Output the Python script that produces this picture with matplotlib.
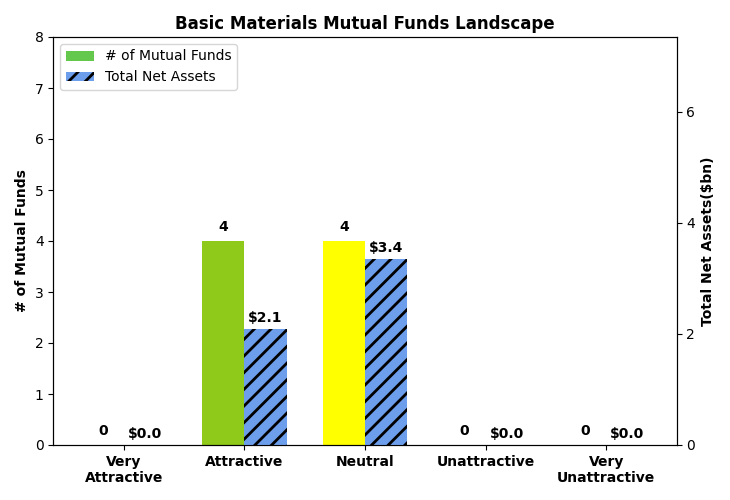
import numpy as np
import matplotlib
matplotlib.use('Agg')
import matplotlib.pyplot as plt

categories = ['Very\nAttractive', 'Attractive', 'Neutral', 'Unattractive', 'Very\nUnattractive']
num_funds = [0, 4, 4, 0, 0]
net_assets = [0.0, 2.09, 3.35, 0.0, 0.0]
fund_colors = ['#64c84c', '#8fc919', '#ffff00', '#ffa500', '#ff0000']

plt.rcParams['hatch.linewidth'] = 2.0

fig, ax = plt.subplots(figsize=(7.3, 5), dpi=100)
ax2 = ax.twinx()

x = np.arange(len(categories))
w = 0.35

bars1 = ax.bar(x - w / 2, num_funds, w, color=fund_colors, label='# of Mutual Funds')
bars2 = ax2.bar(x + w / 2, net_assets, w, color='#6d9eeb', edgecolor='black', linewidth=0,
                hatch='//', label='Total Net Assets')

for b, v in zip(bars1, num_funds):
    ax.annotate('%d' % v, (b.get_x() + b.get_width() / 2, v), xytext=(0, 5),
                textcoords='offset points', ha='center', va='bottom', fontweight='bold')
for b, v in zip(bars2, net_assets):
    ax2.annotate('$%.1f' % v, (b.get_x() + b.get_width() / 2, v), xytext=(0, 3),
                 textcoords='offset points', ha='center', va='bottom', fontweight='bold')

ax.set_ylim(0, 8)
ax2.set_ylim(0, 7.35)
ax2.set_yticks([0, 2, 4, 6])
ax.set_xticks(x)
ax.set_xticklabels(categories, fontweight='bold')
ax.set_ylabel('# of Mutual Funds', fontweight='bold')
ax2.set_ylabel('Total Net Assets($bn)', fontweight='bold')
ax.set_title('Basic Materials Mutual Funds Landscape', fontweight='bold', fontsize=12)

h1, l1 = ax.get_legend_handles_labels()
h2, l2 = ax2.get_legend_handles_labels()
ax.legend(h1 + h2, l1 + l2, loc='upper left')

fig.subplots_adjust(left=0.073, right=0.927, top=0.926, bottom=0.11)
fig.savefig('out.png', dpi=100)
